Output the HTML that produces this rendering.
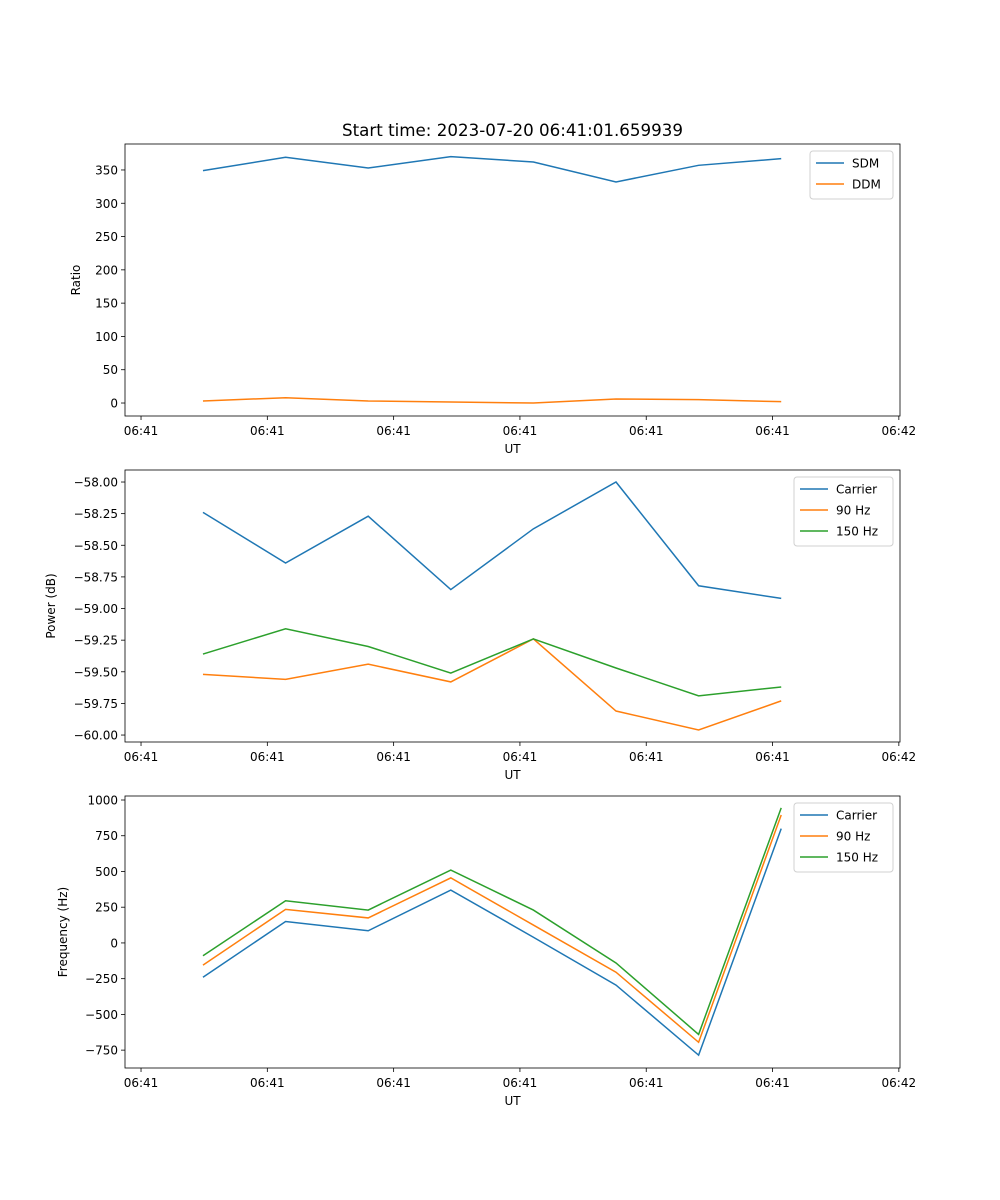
<!DOCTYPE html>
<html><head><meta charset="utf-8"><style>
html,body{margin:0;padding:0;background:#fff;}
svg{display:block;font-family:"DejaVu Sans","Liberation Sans",sans-serif;}
</style></head><body>
<svg id="fig" width="1000" height="1200" viewBox="0 0 1000 1200"></svg>
<script>
const xIndex = [0,1,2,3,4,5,6,7];
const xTickLabels = ["06:41","06:41","06:41","06:41","06:41","06:41","06:42"];
const sdm = [349,369,353,370,362,332,357,367];
const ddm = [3,8,3,1.5,0,6,5,2];
const powCarrier = [-58.24,-58.64,-58.27,-58.85,-58.37,-58.00,-58.82,-58.92];
const pow90 = [-59.52,-59.56,-59.44,-59.58,-59.24,-59.81,-59.96,-59.73];
const pow150 = [-59.36,-59.16,-59.30,-59.51,-59.24,-59.47,-59.69,-59.62];
const freqCarrier = [-240,150,85,370,40,-295,-785,800];
const freq90 = [-155,235,175,455,125,-205,-695,895];
const freq150 = [-90,295,230,510,230,-140,-640,945];
const ratioTicks = [0,50,100,150,200,250,300,350];
const powerTicks = [-60.00,-59.75,-59.50,-59.25,-59.00,-58.75,-58.50,-58.25,-58.00];
const freqTicks = [-750,-500,-250,0,250,500,750,1000];

const NS="http://www.w3.org/2000/svg";
const svg=document.getElementById('fig');
function mk(tag,attrs,parent){const e=document.createElementNS(NS,tag);for(const k in attrs)e.setAttribute(k,attrs[k]);(parent||svg).appendChild(e);return e;}
const L=125,R=900;
const xmin=-0.944,xmax=8.438;
const xs=v=>L+(v-xmin)/(xmax-xmin)*(R-L);
const C1="#1f77b4",C2="#ff7f0e",C3="#2ca02c";
const FS=12;

function panel(name,top,bottom,ymin,ymax,yTicks,fmt,ylabel,series,legendW){
  const g=mk('g',{});
  
  
  const ys=v=>bottom-(v-ymin)/(ymax-ymin)*(bottom-top);
  series.forEach(s=>{
    const p=mk('polyline',{points:s.data.map((v,i)=>xs(xIndex[i])+','+ys(v)).join(' '),fill:'none',stroke:s.color,'stroke-width':1.5},g);
    
    
  });
  const fr=mk('rect',{x:L,y:top,width:R-L,height:bottom-top,fill:'none',stroke:'#000','stroke-width':0.8},g);
  
  
  const step=(1.529);
  xTickLabels.forEach((t,k)=>{
    const x=xs(-0.75+step*k);
    mk('line',{x1:x,x2:x,y1:bottom,y2:bottom+4,stroke:'#000','stroke-width':0.8},g);
    const tx=mk('text',{x:x,y:bottom+19,'font-size':FS,'text-anchor':'middle'},g);
    tx.textContent=t;
    
    
  });
  yTicks.forEach(v=>{
    const y=ys(v);
    mk('line',{x1:L-4,x2:L,y1:y,y2:y,stroke:'#000','stroke-width':0.8},g);
    const tx=mk('text',{x:L-7,y:y+4.5,'font-size':FS,'text-anchor':'end'},g);
    tx.textContent=fmt(v);
    
    
  });
  const xl=mk('text',{x:(L+R)/2,y:bottom+37,'font-size':FS,'text-anchor':'middle'},g);
  xl.textContent='UT';
  
  
  const cy=(top+bottom)/2;
  const yl=mk('text',{x:0,y:0,'font-size':FS,'text-anchor':'middle',transform:`translate(${ylabel.x},${cy}) rotate(-90)`},g);
  yl.textContent=ylabel.t;
  
  
  const lx=R-7-legendW, ly=top+7, lh=6+series.length*21;
  const lg=mk('g',{},g);
  
  
  mk('rect',{x:lx,y:ly,width:legendW,height:lh,rx:3,fill:'#fff',stroke:'#ccc','stroke-width':1,opacity:0.9},lg);
  series.forEach((s,i)=>{
    const yy=ly+12+i*21;
    mk('line',{x1:lx+6,x2:lx+34,y1:yy,y2:yy,stroke:s.color,'stroke-width':1.5},lg);
    const t=mk('text',{x:lx+42,y:yy+4.5,'font-size':FS},lg);
    t.textContent=s.label;
    
    
  });
}
const title=mk('text',{x:512.5,y:136,'font-size':16.7,'text-anchor':'middle'});
title.textContent='Start time: 2023-07-20 06:41:01.659939';



panel('ratio-panel',144,416,-19.5,389,ratioTicks,v=>String(v),{x:80,t:'Ratio'},
  [{id:'sdm',label:'SDM',data:sdm,color:C1},{id:'ddm',label:'DDM',data:ddm,color:C2}],83);
panel('power-panel',470,742,-60.055,-57.905,powerTicks,v=>(v<0?'\u2212':'')+Math.abs(v).toFixed(2),{x:55,t:'Power (dB)'},
  [{id:'carrier',label:'Carrier',data:powCarrier,color:C1},{id:'90hz',label:'90 Hz',data:pow90,color:C2},{id:'150hz',label:'150 Hz',data:pow150,color:C3}],99);
panel('frequency-panel',796,1068,-875,1028,freqTicks,v=>(v<0?'\u2212':'')+Math.abs(v),{x:67,t:'Frequency (Hz)'},
  [{id:'carrier',label:'Carrier',data:freqCarrier,color:C1},{id:'90hz',label:'90 Hz',data:freq90,color:C2},{id:'150hz',label:'150 Hz',data:freq150,color:C3}],99);
</script>
</body></html>
